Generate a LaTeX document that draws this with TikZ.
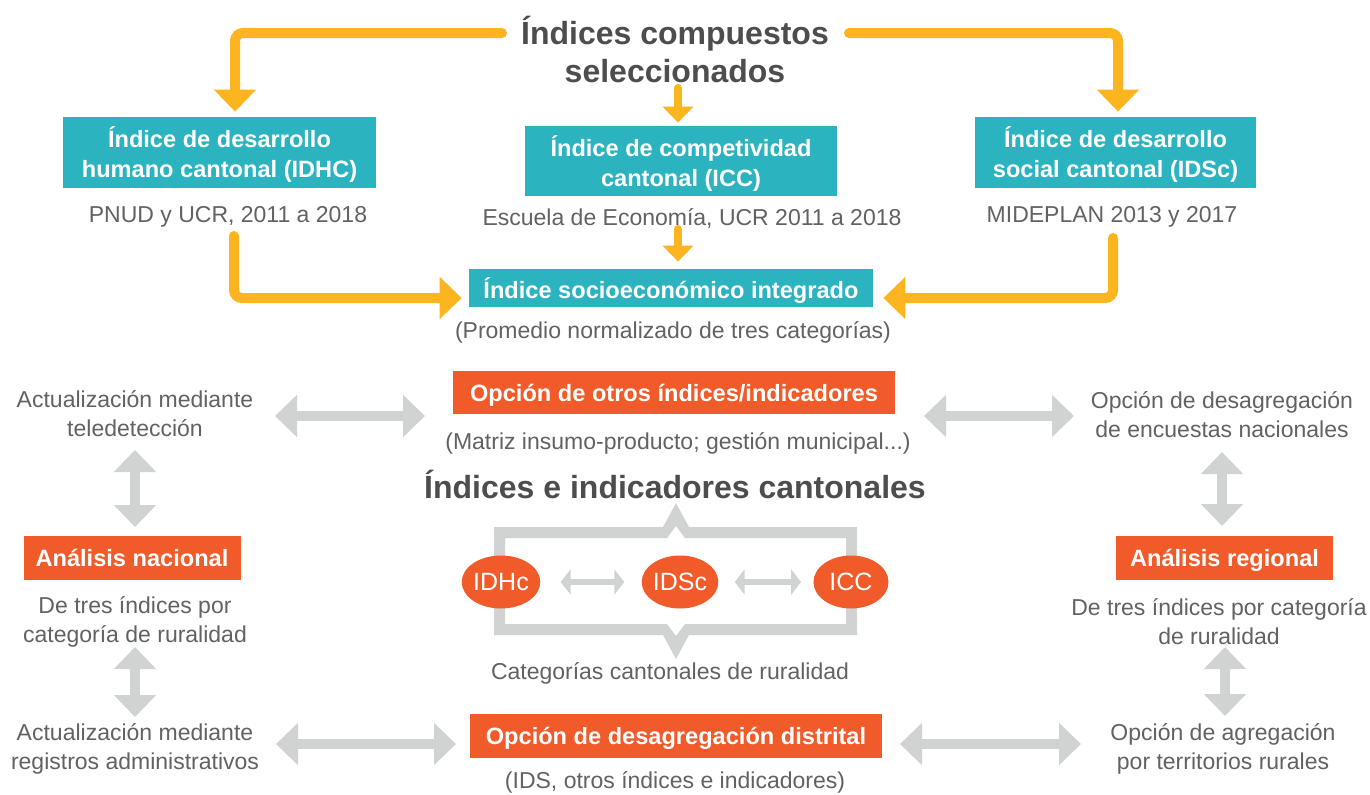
\documentclass[tikz,border=0pt]{standalone}
\usepackage{fontspec}
\setmainfont{Liberation Sans}
\usetikzlibrary{arrows.meta,shapes.geometric}
\definecolor{cTeal}{HTML}{2CB3C0}
\definecolor{cOrange}{HTML}{F15A29}
\definecolor{cYellow}{HTML}{FCB51E}
\definecolor{cGray}{HTML}{D1D3D2}
\definecolor{cDark}{HTML}{4D4D4F}
\definecolor{cText}{HTML}{616264}
\tikzset{
  tealbox/.style={fill=cTeal, text=white, font=\fontsize{11.8}{15}\selectfont\bfseries, align=center, inner sep=0pt, text depth=0pt},
  orangebox/.style={fill=cOrange, text=white, font=\fontsize{11.8}{15}\selectfont\bfseries, align=center, inner sep=0pt, text depth=0pt},
  body/.style={text=cText, font=\fontsize{11.5}{14.5}\selectfont, align=center, inner sep=0pt},
  heading/.style={text=cDark, font=\fontsize{16}{19}\selectfont\bfseries, align=center, inner sep=0pt},
  yarrow/.style={draw=cYellow, line width=5pt, rounded corners=4pt, line cap=round, -{Triangle[length=11pt,width=20.5pt]}},
  ysmall/.style={draw=cYellow, line width=4pt, line cap=round, -{Triangle[length=8pt,width=15pt]}},
  garrow/.style={draw=cGray, line width=5pt, {Triangle[length=11pt,width=20.5pt]}-{Triangle[length=11pt,width=20.5pt]}},
  sarrow/.style={draw=cGray, line width=3pt, {Triangle[length=5pt,width=12.5pt]}-{Triangle[length=5pt,width=12.5pt]}},
  oval/.style={ellipse, fill=cOrange, text=white, font=\fontsize{12.5}{14}\selectfont, minimum width=37.5pt, minimum height=26.5pt, inner sep=0pt},
}
\begin{document}
\begin{tikzpicture}[x=0.5pt,y=-0.5pt]
\useasboundingbox[fill=white] (0,0) rectangle (1370,794);
% top part
\node[heading] (t1) at (675,49) {Índices compuestos\\seleccionados};
\node[tealbox, minimum width=156.5pt, minimum height=35.5pt] (b1) at (219.5,152.5) {Índice de desarrollo\\humano cantonal (IDHC)};
\node[tealbox, minimum width=156pt, minimum height=35pt] (b2) at (681,161) {Índice de competividad\\cantonal (ICC)};
\node[tealbox, minimum width=140.5pt, minimum height=35.5pt] (b3) at (1115.5,152.5) {Índice de desarrollo\\social cantonal (IDSc)};
\node[body] (s1) at (228,217) {PNUD y UCR, 2011 a 2018};
\node[body] (s2) at (692,218) {Escuela de Economía, UCR 2011 a 2018};
\node[body] (s3) at (1112,217) {MIDEPLAN 2013 y 2017};
\node[tealbox, minimum width=202pt, minimum height=19pt] (b4) at (671,288) {Índice socioeconómico integrado};
\node[body] (s4) at (673,332) {(Promedio normalizado de tres categorías)};
% yellow arrows
\coordinate (yL) at (502,33);
\coordinate (yR) at (849,33);
\coordinate (yC) at (678,88);
\coordinate (yl2) at (234,236);
\coordinate (yr2) at (1113,238);
\coordinate (yc2) at (678,229);
\draw[yarrow] (yL) -| ([xshift=7.75pt,yshift=2.5pt]b1.north);
\draw[yarrow] (yR) -| ([xshift=1.25pt,yshift=2.5pt]b3.north);
\draw[ysmall] (yC) -- ([xshift=-1.5pt,yshift=1.5pt]b2.north);
\draw[yarrow] (yl2) |- ([xshift=-3.5pt,yshift=-5pt]b4.west);
\draw[yarrow] (yr2) |- ([xshift=5pt,yshift=-5pt]b4.east);
\draw[ysmall] (yc2) -- ([xshift=3.5pt,yshift=3.5pt]b4.north);
% middle part
\node[body] (a1) at (135,414) {Actualización mediante\\teledetección};
\node[orangebox, minimum width=221pt, minimum height=21.5pt] (o1) at (674,392.5) {Opción de otros índices/indicadores};
\node[body] (s5) at (678,443) {(Matriz insumo-producto; gestión municipal...)};
\node[body] (a2) at (1222,415) {Opción de desagregación\\de encuestas nacionales};
\node[heading] (t2) at (675,484) {Índices e indicadores cantonales};
\node[orangebox, minimum width=108.5pt, minimum height=22pt] (n1) at (132,558) {Análisis nacional};
\node[body] (n1s) at (135,622) {De tres índices por\\categoría de ruralidad};
\node[body] (a3) at (135,749) {Actualización mediante\\registros administrativos};
\node[orangebox, minimum width=108.5pt, minimum height=22pt] (r1) at (1224.5,558) {Análisis regional};
\node[body] (r1s) at (1219,622) {De tres índices por categoría\\de ruralidad};
\node[body] (a4) at (1223,749) {Opción de agregación\\por territorios rurales};
\node[orangebox, minimum width=206pt, minimum height=22pt] (o2) at (676,736) {Opción de desagregación distrital};
\node[body] (s6) at (675,782) {(IDS, otros índices e indicadores)};
\node[body] (s7) at (670,673) {Categorías cantonales de ruralidad};
% bracket frame
\fill[cGray, even odd rule]
  (494,527) -- (663,527) -- (676,503) -- (689,527) -- (857,527) -- (857,635) -- (689,635) -- (676,659) -- (663,635) -- (494,635) -- cycle
  (505,538) -- (667,538) -- (676,526) -- (685,538) -- (846,538) -- (846,624) -- (685,624) -- (676,636) -- (667,624) -- (505,624) -- cycle;
\node[oval] (e1) at (501,582) {IDHc};
\node[oval] (e2) at (680,582) {IDSc};
\node[oval] (e3) at (851,582) {ICC};
\draw[sarrow] ([xshift=10pt]e1.east) -- ([xshift=-8.5pt]e2.west);
\draw[sarrow] ([xshift=8pt]e2.east) -- ([xshift=-6pt]e3.west);
% gray arrows
\coordinate (g1a) at (275,416); \coordinate (g1b) at (425,416);
\coordinate (g2a) at (924,416); \coordinate (g2b) at (1074,416);
\coordinate (g3a) at (135,450); \coordinate (g3b) at (135,527);
\coordinate (g4a) at (1222,452); \coordinate (g4b) at (1222,526);
\coordinate (g5a) at (135,647); \coordinate (g5b) at (135,717);
\coordinate (g6a) at (1225,647); \coordinate (g6b) at (1225,716);
\coordinate (g7a) at (276,744); \coordinate (g7b) at (456,744);
\coordinate (g8a) at (900,744); \coordinate (g8b) at (1081,744);
\draw[garrow] (g1a) -- (g1b);
\draw[garrow] (g2a) -- (g2b);
\draw[garrow] (g3a) -- (g3b);
\draw[garrow] (g4a) -- (g4b);
\draw[garrow] (g5a) -- (g5b);
\draw[garrow] (g6a) -- (g6b);
\draw[garrow] (g7a) -- (g7b);
\draw[garrow] (g8a) -- (g8b);
\end{tikzpicture}
\end{document}
